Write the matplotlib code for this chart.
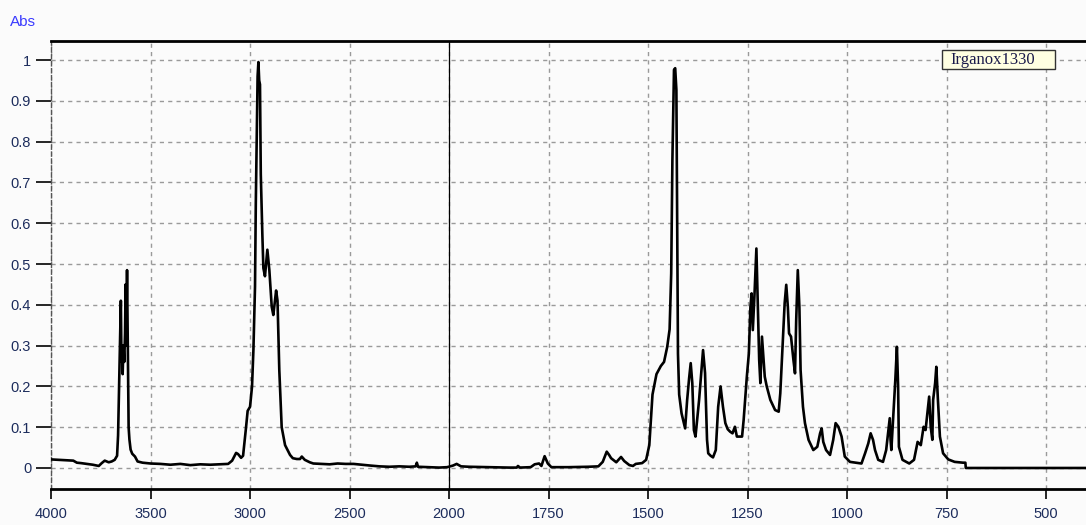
import numpy as np
import matplotlib
matplotlib.use("Agg")
import matplotlib.pyplot as plt
from matplotlib.patches import Rectangle

# FTIR spectrum of Irganox1330 (wavenumber in cm-1, absorbance)
wavenumber = [
    4000, 3960, 3920, 3888, 3870, 3850, 3820, 3790, 3760, 3745, 3730, 3710, 3695, 3680,
    3668, 3663, 3658, 3653, 3649, 3646, 3643, 3640, 3636, 3632, 3628, 3625, 3622, 3618,
    3614, 3610, 3606, 3600, 3592, 3578, 3565, 3540, 3500, 3450, 3400, 3350, 3300, 3250,
    3200, 3150, 3110, 3090, 3070, 3060, 3045, 3035, 3020, 3012, 3000, 2990, 2983, 2975,
    2971, 2966, 2962, 2958, 2954, 2950, 2946, 2938, 2933, 2925, 2913, 2903, 2891, 2883,
    2869, 2862, 2853, 2841, 2824, 2799, 2785, 2765, 2749, 2740, 2725, 2700, 2682, 2640,
    2600, 2560, 2520, 2480, 2440, 2397, 2350, 2300, 2250, 2200, 2168, 2162, 2156, 2100,
    2050, 2010, 1990, 1981, 1970, 1950, 1900, 1850, 1830, 1827, 1822, 1795, 1785, 1774,
    1768, 1760, 1752, 1743, 1700, 1650, 1625, 1614, 1604, 1598, 1593, 1580, 1568, 1560,
    1547, 1538, 1531, 1515, 1505, 1497, 1489, 1479, 1468, 1460, 1452, 1446, 1442, 1439,
    1435, 1432, 1429, 1427, 1425, 1422, 1416, 1407, 1402, 1397, 1393, 1389, 1385, 1381,
    1372, 1366, 1362, 1357, 1352, 1349, 1343, 1337, 1330, 1324, 1318, 1312, 1306, 1300,
    1294, 1288, 1282, 1277, 1268, 1264, 1260, 1252, 1247, 1243, 1240, 1237, 1233, 1228,
    1225, 1221, 1218, 1214, 1207, 1202, 1193, 1181, 1172, 1168, 1162, 1157, 1153, 1149,
    1146, 1141, 1135, 1131, 1128, 1124, 1120, 1117, 1111, 1106, 1097, 1085, 1075, 1068,
    1064, 1060, 1053, 1043, 1035, 1029, 1022, 1014, 1006, 993, 964, 955, 947, 941,
    935, 930, 922, 910, 902, 893, 891, 889, 883, 879, 875, 872, 870, 861,
    844, 832, 823, 815, 808, 803, 794, 790, 786, 784, 779, 776, 772, 767,
    759, 746, 730, 709, 703, 702, 600, 500, 400,
]
absorbance = [
    0.021, 0.020, 0.019, 0.018, 0.013, 0.012, 0.010, 0.008, 0.005, 0.012, 0.018, 0.014, 0.016, 0.020,
    0.030, 0.080, 0.200, 0.320, 0.410, 0.260, 0.300, 0.230, 0.300, 0.260, 0.330, 0.450, 0.300, 0.485,
    0.280, 0.100, 0.070, 0.045, 0.035, 0.028, 0.016, 0.013, 0.011, 0.010, 0.008, 0.010, 0.007, 0.009,
    0.008, 0.009, 0.010, 0.018, 0.037, 0.034, 0.025, 0.030, 0.100, 0.140, 0.150, 0.200, 0.290, 0.445,
    0.650, 0.830, 0.960, 0.995, 0.950, 0.940, 0.720, 0.570, 0.490, 0.470, 0.535, 0.485, 0.395, 0.375,
    0.435, 0.410, 0.240, 0.100, 0.056, 0.032, 0.024, 0.022, 0.022, 0.028, 0.020, 0.014, 0.011, 0.010,
    0.009, 0.011, 0.010, 0.010, 0.008, 0.006, 0.004, 0.003, 0.004, 0.003, 0.004, 0.013, 0.003, 0.002,
    0.001, 0.002, 0.006, 0.010, 0.004, 0.003, 0.002, 0.001, 0.001, 0.005, 0.001, 0.002, 0.009, 0.011,
    0.005, 0.029, 0.011, 0.002, 0.002, 0.003, 0.004, 0.015, 0.040, 0.032, 0.024, 0.014, 0.027, 0.017,
    0.007, 0.005, 0.010, 0.012, 0.020, 0.056, 0.180, 0.230, 0.250, 0.260, 0.297, 0.340, 0.477, 0.755,
    0.976, 0.980, 0.927, 0.616, 0.280, 0.180, 0.134, 0.097, 0.166, 0.220, 0.257, 0.208, 0.093, 0.077,
    0.166, 0.240, 0.289, 0.233, 0.069, 0.036, 0.030, 0.026, 0.044, 0.150, 0.200, 0.150, 0.110, 0.095,
    0.089, 0.085, 0.101, 0.077, 0.077, 0.077, 0.118, 0.224, 0.280, 0.395, 0.428, 0.338, 0.420, 0.538,
    0.420, 0.265, 0.208, 0.322, 0.224, 0.200, 0.167, 0.142, 0.138, 0.183, 0.306, 0.404, 0.449, 0.395,
    0.330, 0.322, 0.265, 0.232, 0.363, 0.485, 0.395, 0.240, 0.150, 0.110, 0.069, 0.044, 0.052, 0.085,
    0.097, 0.064, 0.044, 0.032, 0.069, 0.110, 0.101, 0.077, 0.028, 0.015, 0.011, 0.036, 0.060, 0.085,
    0.069, 0.044, 0.020, 0.015, 0.044, 0.122, 0.069, 0.044, 0.150, 0.216, 0.297, 0.200, 0.052, 0.020,
    0.011, 0.020, 0.064, 0.056, 0.101, 0.093, 0.175, 0.100, 0.069, 0.167, 0.208, 0.248, 0.167, 0.077,
    0.036, 0.021, 0.015, 0.013, 0.013, 0.000, 0.000, 0.000, 0.000,
]
x_ticks = [4000, 3500, 3000, 2500, 2000, 1750, 1500, 1250, 1000, 750, 500]
y_ticks = [0, 0.1, 0.2, 0.3, 0.4, 0.5, 0.6, 0.7, 0.8, 0.9, 1]
y_tick_labels = ["0", "0.1", "0.2", "0.3", "0.4", "0.5", "0.6", "0.7", "0.8", "0.9", "1"]
sample_name = "Irganox1330"


# wavenumber axis is compressed 2x above 2000 cm-1 (usual FTIR display)
def fwd(w):
    w = np.asarray(w, dtype=float)
    return np.where(w >= 2000, w, 2 * w - 2000)


def inv(u):
    u = np.asarray(u, dtype=float)
    return np.where(u >= 2000, u, (u + 2000) / 2)


bg = "#fbfbfb"
tick_color = "#1c2c5c"

fig = plt.figure(figsize=(10.86, 5.25), dpi=100, facecolor=bg)
ax = fig.add_axes([51 / 1086, 1 - 489 / 525, 1 - 51 / 1086, 448 / 525], facecolor=bg)
ax.set_xscale("function", functions=(fwd, inv))

ax.plot(wavenumber, absorbance, color="black", linewidth=1.9, zorder=3)

ax.set_xlim(4000, 400)
ax.set_ylim(-0.0515, 1.0466)
ax.set_xticks(x_ticks)
ax.set_xticklabels([str(t) for t in x_ticks])
ax.set_yticks(y_ticks)
ax.set_yticklabels(y_tick_labels)
ax.minorticks_off()

ax.grid(True, color="#9a9a9a", linestyle=(0, (3, 3)), linewidth=1.0, zorder=1)
# solid line where the scale changes
ax.axvline(2000, color="black", linewidth=0.9, zorder=2)

for side in ["top", "bottom"]:
    ax.spines[side].set_linewidth(2.0)
    ax.spines[side].set_color("black")
ax.spines["right"].set_visible(False)
ax.spines["left"].set_linestyle((0, (3, 2)))
ax.spines["left"].set_color("#555555")
ax.spines["left"].set_linewidth(1.0)

ax.tick_params(axis="y", direction="out", length=10.8, width=1.2, pad=3.5,
               labelsize=10.5, labelcolor=tick_color, color="black")
ax.tick_params(axis="x", direction="out", length=7.2, width=1.2, pad=6,
               labelsize=10.5, labelcolor=tick_color, color="black")
for lab in ax.get_xticklabels() + ax.get_yticklabels():
    lab.set_family("Liberation Sans")

fig.text(10 / 1086, 1 - 22 / 525, "Abs", color="#3a3aff", fontsize=11,
         family="Liberation Sans", ha="left", va="center")

# sample label box
fig.patches.append(Rectangle((942 / 1086, 1 - 69 / 525), 113 / 1086, 19 / 525,
                             transform=fig.transFigure, facecolor="#ffffe1",
                             edgecolor="#333333", linewidth=1.0, zorder=5))
fig.text(950 / 1086, 1 - 59.5 / 525, sample_name, color="#1a1a4a", fontsize=12,
         family="Liberation Serif", ha="left", va="center", zorder=6)

fig.savefig("out.png", dpi=100, facecolor=bg)
